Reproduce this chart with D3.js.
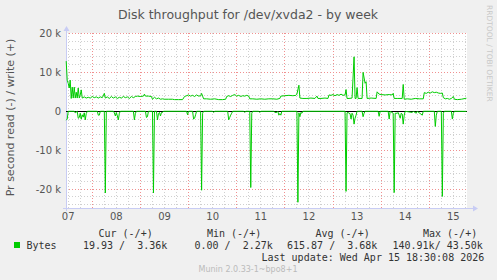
<!DOCTYPE html>
<html>
<head>
<meta charset="utf-8">
<script src="https://cdn.jsdelivr.net/npm/d3@7"></script>
<style>
  body { margin: 0; background: #f0f0f0; }
  svg { display: block; }
  text { font-family: "DejaVu Sans", sans-serif; fill: #555; }
  .mono { font-family: "DejaVu Sans Mono", monospace; font-size: 10px; fill: #333; }
</style>
</head>
<body>
<svg id="chart"></svg>
<script>
// hours counted from Apr 07 00:00, values in bytes/s (k = thousands)
const writeHours = [
  11, 11.5, 12, 12.5, 13, 13.5, 14, 14.5, 15, 15.5, 16, 16.5, 17, 17.5, 18, 18.5, 19, 20, 21, 22, 23,
  24, 25, 26, 27, 28, 29, 30, 30.5, 31.5, 32.5, 33.5, 34.5, 35.5, 36.5, 37.5, 38.5, 39.5, 40.5, 41.5, 42.5, 43.5, 44.5, 45.5, 46.5,
  48, 49.5, 50, 50.5, 52, 53.5, 54, 55, 56, 57, 58, 59, 60, 62, 64, 65, 67, 69, 70, 71,
  72, 73, 74, 75, 76, 77, 78, 78.5, 79, 79.5, 81, 83, 85, 87, 89, 90.5, 91, 92, 93, 94, 95,
  96, 97, 98, 99, 100, 101, 102, 102.5, 104, 106, 108, 110, 112, 114, 116, 117.5, 118,
  120, 122, 124, 125.5, 126, 127, 127.5, 129, 131, 133, 135, 136, 136.5, 138, 140, 141.5, 142, 143,
  144, 145, 146, 147, 148, 149, 150, 150.5, 151, 152, 153.5, 154.5, 155, 155.5, 156, 156.5, 158.5, 159, 160, 160.5, 161, 163, 165.5, 166, 167,
  168, 170, 172, 173.5, 174, 174.5, 176, 178.5, 179, 179.5, 181, 183, 185, 187, 189, 189.5, 190.5, 191.5,
  192.5, 193.5, 194.5, 195.5, 196.5, 197.5, 198.5, 199, 200, 201, 202, 203, 204, 204.5, 206, 208, 210.5
];
const writeValues = [
  12900, 8000, 7200, 6000, 8000, 3300, 6200, 3400, 6200, 3400, 4900, 3400, 6000, 3400, 4200, 5500, 3400, 3700, 3400, 3600, 3400,
  3800, 3500, 3700, 3400, 3700, 3500, 4600, 3400, 3700, 3300, 3800, 3400, 3700, 3300, 3600, 3400, 3800, 3500, 3700, 3300, 3800, 3500, 3800, 3900,
  3800, 3900, 4400, 3900, 3900, 3800, 3100, 3600, 3200, 3400, 3100, 3200, 3100, 3100, 3100, 3000, 3000, 3000, 3800, 4000,
  4200, 3900, 4100, 3800, 4200, 3900, 4000, 4600, 3900, 3200, 3200, 3100, 3200, 3000, 3000, 3100, 3800, 4000, 3800, 4100, 4300,
  3900, 4100, 3800, 4000, 3900, 4100, 3900, 3200, 3200, 3100, 3200, 3100, 3200, 3200, 3100, 3300, 3900,
  4000, 4100, 4000, 4100, 4400, 6700, 3400, 3300, 3300, 3400, 3300, 3900, 3300, 3300, 3400, 3300, 4200, 4100,
  4300, 4000, 4300, 4100, 4400, 4100, 4200, 5600, 3300, 3300, 3400, 14000, 3300, 3300, 6100, 3300, 3300, 10000, 7200, 7600, 3300, 3400, 3300, 5000, 4400,
  4300, 4200, 4300, 4200, 4600, 3300, 3300, 3300, 6900, 3100, 3200, 3100, 3300, 3200, 3200, 4800, 4600, 4900,
  4700, 5000, 4800, 4900, 4700, 4600, 4700, 3500, 3200, 3300, 3100, 3300, 3800, 3100, 3000, 3100, 3360
];

const readHours = [
  11, 11.5, 12, 15, 15.5, 16.5, 17, 17.5, 18, 18.5, 19, 19.5, 20, 20.5, 21, 21.5,
  26.5, 27, 27.5, 28, 30, 30.5, 31, 34.5, 35, 35.5, 36, 36.5, 37, 37.5, 38, 44.5, 45, 45.5, 46,
  50.5, 51, 51.5, 52, 54, 54.5, 55, 56, 56.5, 57, 57.5, 58, 58.5, 59, 59.5, 71, 71.5, 72, 74, 74.5, 75, 75.5, 76,
  78, 78.5, 79, 79.5, 84, 84.5, 85, 91.5, 92, 92.5, 93, 93.5, 94, 99.5, 100, 100.5,
  102.5, 103, 103.5, 104, 107, 107.5, 108, 114.5, 115, 116, 116.5, 117, 117.5, 118, 118.5,
  126, 126.5, 127, 127.5, 128, 128.5, 129,
  150, 150.5, 151, 151.5, 152, 152.5, 153, 153.5, 154, 154.5, 155, 155.5, 156, 158.5, 159, 159.5, 160, 166.5, 167, 167.5,
  171.5, 172, 172.5, 174, 174.5, 175, 176, 176.5, 177, 177.5, 178, 178.5, 179, 179.5, 180, 183.5, 184, 185.5, 186, 188.5, 189,
  194.5, 195, 195.5, 196, 198, 198.5, 199, 199.5, 203, 203.5, 204, 204.5, 210.5
];
const readValues = [
  2300, 2000, 0, 0, 400, 0, 1800, 1600, 500, 2000, 900, 1500, 400, 2200, 600, 0,
  0, 1000, 1000, 0, 0, 21000, 0, 0, 400, 1200, 300, 1200, 2200, 500, 0, 0, 2200, 500, 0,
  0, 1600, 1400, 0, 0, 21000, 0, 0, 2200, 600, 300, 1200, 300, 300, 0, 0, 900, 0, 0, 2000, 1800, 900, 0,
  0, 20300, 500, 0, 0, 300, 0, 0, 2200, 1600, 1000, 500, 0, 0, 300, 0,
  0, 19600, 500, 0, 0, 300, 0, 0, 300, 300, 0, 1000, 600, 1000, 0,
  0, 23400, 400, 1400, 300, 500, 0,
  0, 20600, 400, 300, 500, 600, 2000, 500, 1000, 3300, 1800, 1000, 0, 0, 1400, 500, 0, 0, 1300, 0,
  0, 2000, 0, 500, 20900, 500, 500, 300, 1000, 1800, 500, 700, 3300, 1000, 0, 300, 0, 500, 0, 1000, 0,
  0, 3900, 1000, 0, 0, 21900, 500, 0, 0, 2000, 500, 0, 20
];

const yTicks = [-20000, -10000, 0, 10000, 20000];
const yTickLabels = ["-20 k", "-10 k", "0", "10 k", "20 k"];
const dayLabels = ["07", "08", "09", "10", "11", "12", "13", "14", "15"];

const legendHeads = ["Cur (-/+)", "Min (-/+)", "Avg (-/+)", "Max (-/+)"];
const legendValues = ["19.93 /  3.36k", "0.00 /  2.27k", "615.87 /  3.68k", "140.91k/ 43.50k"];

const W = 497, H = 280;
const base = new Date(2026, 3, 7, 0, 0, 0);
const at = h => new Date(base.getTime() + h * 3600e3);

const svg = d3.select("#chart").attr("width", W).attr("height", H);
svg.append("rect").attr("width", W).attr("height", H).attr("fill", "#f0f0f0");

const x = d3.scaleTime().domain([at(10.9), at(210.5)]).range([66, 466.4]);
const y = d3.scaleLinear().domain([-25000, 20000]).range([208.5, 33.5]);
const px = v => Math.floor(v) + 0.5;

// canvas
svg.append("rect").attr("x", 66).attr("y", 33).attr("width", 401).attr("height", 175).attr("fill", "#fff");

const grid = svg.append("g");
// minor horizontal every 2k
d3.range(-24000, 20001, 2000).filter(v => v % 10000 !== 0).forEach(v => {
  grid.append("line").attr("x1", 66).attr("x2", 468).attr("y1", px(y(v))).attr("y2", px(y(v)))
    .attr("stroke", "#d0d0d0").attr("stroke-dasharray", "1,2");
});
// minor vertical every 6h
d3.timeHour.every(6).range(x.domain()[0], x.domain()[1]).filter(d => d.getHours() !== 0).forEach(d => {
  grid.append("line").attr("x1", px(x(d))).attr("x2", px(x(d))).attr("y1", 33).attr("y2", 208)
    .attr("stroke", "#d0d0d0").attr("stroke-dasharray", "1,2");
});
// major
yTicks.forEach(v => {
  grid.append("line").attr("x1", 66).attr("x2", 468).attr("y1", px(y(v))).attr("y2", px(y(v)))
    .attr("stroke", "#f09090").attr("stroke-dasharray", "1,2");
});
d3.timeDay.range(x.domain()[0], x.domain()[1]).forEach(d => {
  grid.append("line").attr("x1", px(x(d))).attr("x2", px(x(d))).attr("y1", 33).attr("y2", 208)
    .attr("stroke", "#f09090").attr("stroke-dasharray", "1,2");
});

// axes
const axisColor = "#c8ccf4";
svg.append("line").attr("x1", 66.5).attr("x2", 66.5).attr("y1", 211).attr("y2", 30).attr("stroke", axisColor);
svg.append("path").attr("d", "M63.5,31 L69.5,31 L66.5,26 Z").attr("fill", axisColor);
svg.append("line").attr("x1", 63).attr("x2", 474).attr("y1", 208.5).attr("y2", 208.5).attr("stroke", axisColor);
svg.append("path").attr("d", "M473,205.5 L473,211.5 L478,208.5 Z").attr("fill", axisColor);

yTicks.forEach((v, i) => {
  svg.append("text").attr("x", 61).attr("y", y(v) + 3.5).attr("text-anchor", "end")
    .attr("font-size", 10).text(yTickLabels[i]);
});
dayLabels.forEach((lab, i) => {
  svg.append("text").attr("x", x(at(i * 24 + 12))).attr("y", 220).attr("text-anchor", "middle")
    .attr("font-size", 10).text(lab);
});

// zero line
svg.append("line").attr("x1", 66).attr("x2", 467).attr("y1", px(y(0))).attr("y2", px(y(0))).attr("stroke", "#000");

const line = d3.line().x(d => x(at(d[0]))).y(d => y(d[1]));
const writeData = writeHours.map((h, i) => [h, writeValues[i]]);
const readData = readHours.map((h, i) => [h, -readValues[i]]);
svg.append("path").datum(readData).attr("d", line).attr("fill", "none").attr("stroke", "#00cc00").attr("stroke-width", 1);
svg.append("path").datum(writeData).attr("d", line).attr("fill", "none").attr("stroke", "#00cc00").attr("stroke-width", 1);

// titles
svg.append("text").attr("x", 248).attr("y", 18.5).attr("text-anchor", "middle").attr("font-size", 12.5)
  .text("Disk throughput for /dev/xvda2 - by week");
svg.append("text").attr("transform", "translate(14,117.5) rotate(-90)").attr("text-anchor", "middle")
  .attr("font-size", 11).text("Pr second read (-) / write (+)");
svg.append("text").attr("transform", "translate(487,5) rotate(90)").attr("font-size", 7.5)
  .style("fill", "#c8c8c8").text("RRDTOOL / TOBI OETIKER");

// legend
const headX = [98.5, 207, 315.5, 423];
const valX = [83, 194.5, 287, 392.5];
legendHeads.forEach((t, i) => {
  svg.append("text").attr("class", "mono").attr("x", headX[i]).attr("y", 237).attr("xml:space", "preserve").text(t);
});
svg.append("rect").attr("x", 14).attr("y", 242).attr("width", 6).attr("height", 6).attr("fill", "#00cc00");
svg.append("text").attr("class", "mono").attr("x", 26.5).attr("y", 249).text("Bytes");
legendValues.forEach((t, i) => {
  svg.append("text").attr("class", "mono").attr("x", valX[i]).attr("y", 249).attr("xml:space", "preserve").text(t);
});
svg.append("text").attr("class", "mono").attr("x", 261.5).attr("y", 261).attr("xml:space", "preserve")
  .text("Last update: Wed Apr 15 18:30:08 2026");
svg.append("text").attr("x", 248).attr("y", 272).attr("text-anchor", "middle").attr("font-size", 8)
  .style("fill", "#bbb").text("Munin 2.0.33-1~bpo8+1");
</script>
</body>
</html>
